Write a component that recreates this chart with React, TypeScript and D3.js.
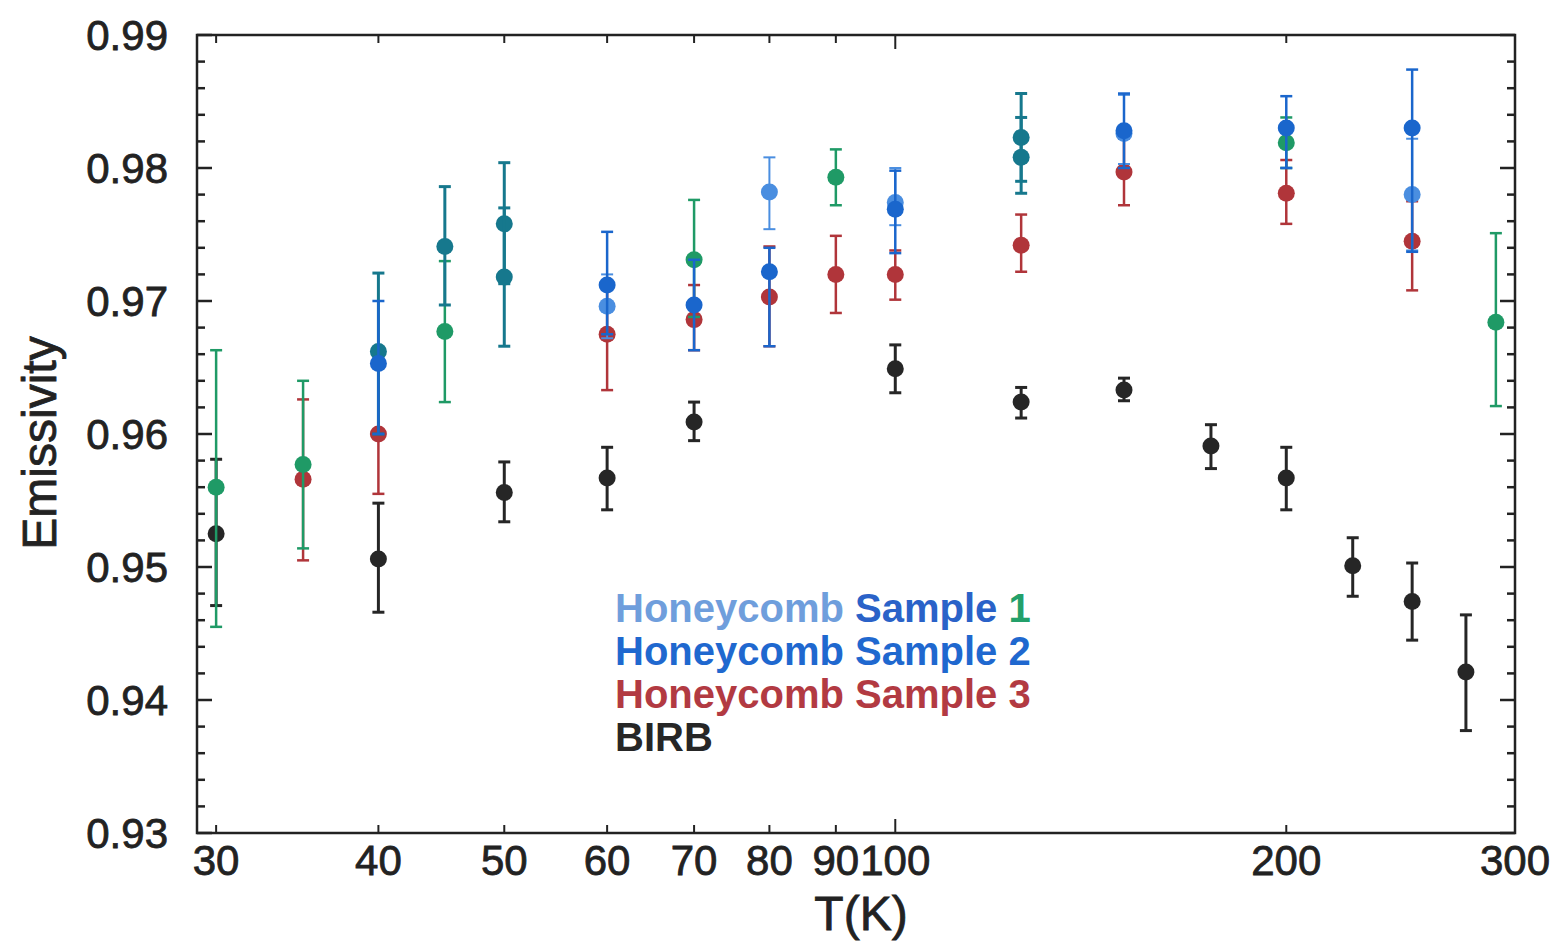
import React from "react";
import * as d3 from "d3";

// [T (K), emissivity, error low, error high]
type Pt = [number, number, number, number];

const sample1: Pt[] = [
  [30, 0.956, 0.9455, 0.9663],
  [35, 0.9577, 0.9514, 0.964],
  [45, 0.9677, 0.9624, 0.973],
  [70, 0.9731, 0.9688, 0.9776],
  [90, 0.9793, 0.9772, 0.9814],
  [200, 0.9819, 0.98, 0.9838],
  [290, 0.9684, 0.9621, 0.9751],
];

const sample1Alt: Pt[] = [
  [60, 0.9696, 0.9672, 0.972],
  [80, 0.9782, 0.9754, 0.9808],
  [100, 0.9774, 0.9757, 0.98],
  [150, 0.9826, 0.9803, 0.9855],
  [250, 0.978, 0.9738, 0.9822],
];

const sample2: Pt[] = [
  [40, 0.9653, 0.96, 0.97],
  [60, 0.9712, 0.9675, 0.9752],
  [70, 0.9697, 0.9663, 0.9731],
  [80, 0.9722, 0.9666, 0.974],
  [100, 0.9769, 0.9736, 0.9798],
  [150, 0.9828, 0.98, 0.9856],
  [200, 0.983, 0.98, 0.9854],
  [250, 0.983, 0.9737, 0.9874],
];

const sample2Alt: Pt[] = [
  [40, 0.9662, 0.96, 0.9721],
  [45, 0.9741, 0.9697, 0.9786],
  [50, 0.9758, 0.9713, 0.9804],
  [50, 0.9718, 0.9666, 0.977],
  [125, 0.9823, 0.979, 0.9856],
  [125, 0.9808, 0.9781, 0.9838],
];

const sample3: Pt[] = [
  [35, 0.9566, 0.9505, 0.9626],
  [40, 0.96, 0.9555, 0.965],
  [60, 0.9675, 0.9633, 0.9712],
  [70, 0.9686, 0.9663, 0.9712],
  [80, 0.9703, 0.9666, 0.9741],
  [90, 0.972, 0.9691, 0.9749],
  [100, 0.972, 0.9701, 0.9738],
  [125, 0.9742, 0.9722, 0.9765],
  [150, 0.9797, 0.9772, 0.9822],
  [200, 0.9781, 0.9758, 0.9806],
  [250, 0.9745, 0.9708, 0.9775],
];

const birb: Pt[] = [
  [30, 0.9525, 0.9471, 0.9581],
  [40, 0.9506, 0.9466, 0.9548],
  [50, 0.9556, 0.9534, 0.9579],
  [60, 0.9567, 0.9543, 0.959],
  [70, 0.9609, 0.9595, 0.9624],
  [100, 0.9649, 0.9631, 0.9667],
  [125, 0.9624, 0.9612, 0.9635],
  [150, 0.9633, 0.9625, 0.9642],
  [175, 0.9591, 0.9574, 0.9607],
  [200, 0.9567, 0.9543, 0.959],
  [225, 0.9501, 0.9478, 0.9522],
  [250, 0.9474, 0.9445, 0.9503],
  [275, 0.9421, 0.9377, 0.9464],
];

const xTickValues = [30, 40, 50, 60, 70, 80, 90, 100, 200, 300];
const xMajorTicks = [100];
const yTickValues = [0.93, 0.94, 0.95, 0.96, 0.97, 0.98, 0.99];

const legendLines = [
  [["Honeycomb ", "#6f9edc"], ["Sample ", "#2a62c8"], ["1", "#23a06a"]],
  [["Honeycomb Sample 2", "#1f68cf"]],
  [["Honeycomb Sample 3", "#b23a42"]],
  [["BIRB", "#262626"]],
];

const FONT = "'Liberation Sans', Arial, Helvetica, sans-serif";

const seriesList: { data: Pt[]; color: string; sw: number }[] = [
  { data: birb, color: "#262626", sw: 3 },
  { data: sample3, color: "#b0353a", sw: 2.5 },
  { data: sample1, color: "#1f9a66", sw: 2.5 },
  { data: sample2Alt, color: "#16788d", sw: 3 },
  { data: sample1Alt, color: "#4a8ee0", sw: 2 },
  { data: sample2, color: "#1a66cc", sw: 2.5 },
];

export default function App() {
  const W = 1555;
  const H = 944;
  const x = d3.scaleLog().domain([29, 300]).range([197, 1515]);
  const y = d3.scaleLinear().domain([0.93, 0.99]).range([833, 35]);
  const [x0, x1] = x.range();
  const [yb, yt] = y.range();

  const yMinor = d3.range(0, 31).map((i) => 0.93 + i * 0.002);
  const txt = { fontFamily: FONT, fill: "#222", stroke: "#222", strokeWidth: 0.8 };

  return (
    <svg width={W} height={H} style={{ position: "absolute", left: 0, top: 0, background: "#fff" }}>
      <rect x={0} y={0} width={W} height={H} fill="#fff" />
      {/* y ticks */}
      {yMinor.map((v, i) => {
        const major = i % 5 === 0;
        const len = major ? 15 : 8;
        return (
          <g key={"yt" + i} stroke="#222" strokeWidth={2.5}>
            <line x1={x0} x2={x0 + len} y1={y(v)} y2={y(v)} />
            <line x1={x1} x2={x1 - len} y1={y(v)} y2={y(v)} />
          </g>
        );
      })}
      {/* x ticks */}
      {xTickValues.map((t) => {
        const len = xMajorTicks.includes(t) ? 14 : 8;
        return (
          <g key={"xt" + t} stroke="#222" strokeWidth={2}>
            <line x1={x(t)} x2={x(t)} y1={yb} y2={yb - len} />
            <line x1={x(t)} x2={x(t)} y1={yt} y2={yt + len} />
          </g>
        );
      })}
      <rect x={x0} y={yt} width={x1 - x0} height={yb - yt} fill="none" stroke="#222" strokeWidth={2.5} />

      {/* y tick labels */}
      {yTickValues.map((v) => (
        <text key={"yl" + v} x={168} y={y(v)} dy="0.36em" textAnchor="end" fontSize={42} {...txt}>
          {v.toFixed(2)}
        </text>
      ))}
      {/* x tick labels */}
      {xTickValues.map((t) => (
        <text key={"xl" + t} x={x(t)} y={875} textAnchor="middle" fontSize={42} {...txt}>
          {t}
        </text>
      ))}

      <text x={861} y={930} textAnchor="middle" fontSize={48} {...txt}>
        T(K)
      </text>
      <text transform={`translate(56,443) rotate(-90)`} textAnchor="middle" fontSize={48} {...txt}>
        Emissivity
      </text>

      {/* data */}
      {seriesList.map((s, si) => (
        <g key={"s" + si} stroke={s.color} fill={s.color}>
          {s.data.map((p, i) => {
            const cx = x(p[0]);
            return (
              <g key={i}>
                <line x1={cx} x2={cx} y1={y(p[2])} y2={y(p[3])} strokeWidth={s.sw} />
                <line x1={cx - 6} x2={cx + 6} y1={y(p[2])} y2={y(p[2])} strokeWidth={s.sw} />
                <line x1={cx - 6} x2={cx + 6} y1={y(p[3])} y2={y(p[3])} strokeWidth={s.sw} />
                <circle cx={cx} cy={y(p[1])} r={8.5} stroke="none" />
              </g>
            );
          })}
        </g>
      ))}

      {/* legend */}
      {legendLines.map((line, li) => (
        <text key={"lg" + li} x={615} y={622 + li * 43} fontFamily={FONT} fontSize={40} fontWeight="bold">
          {line.map((seg, k) => (
            <tspan key={k} fill={seg[1]} style={{ whiteSpace: "pre" }}>
              {seg[0]}
            </tspan>
          ))}
        </text>
      ))}
    </svg>
  );
}
